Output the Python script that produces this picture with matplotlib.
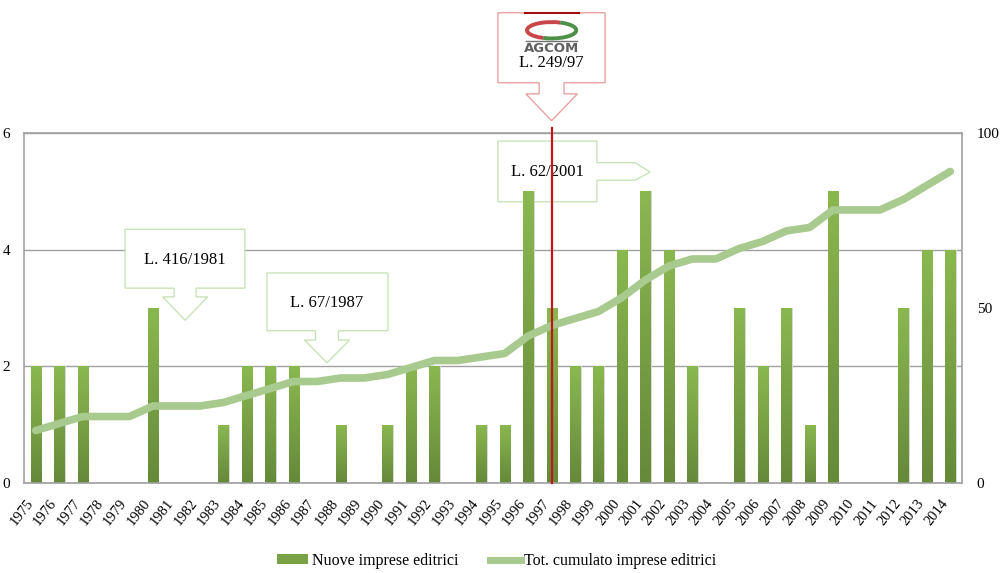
import numpy as np
import matplotlib.pyplot as plt
import matplotlib.transforms as mtransforms
from matplotlib.patches import Polygon, Arc, Patch
from matplotlib.lines import Line2D
from matplotlib.colors import LinearSegmentedColormap

plt.rcParams['font.family'] = ['Liberation Serif', 'DejaVu Serif']

# dati
anni = [str(a) for a in range(1975, 2015)]
nuove_imprese = [2, 2, 2, 0, 0, 3, 0, 0, 1, 2, 2, 2, 0, 1, 0, 1, 2, 2, 0, 1,
                 1, 5, 3, 2, 2, 4, 5, 4, 2, 0, 3, 2, 3, 1, 5, 0, 0, 3, 4, 4]
cumulato = [15, 17, 19, 19, 19, 22, 22, 22, 23, 25, 27, 29, 29, 30, 30, 31, 33, 35, 35, 36,
            37, 42, 45, 47, 49, 53, 58, 62, 64, 64, 67, 69, 72, 73, 78, 78, 78, 81, 85, 89]
ticks_sx = [0, 2, 4, 6]
ticks_dx = [0, 50, 100]

verde_bar = '#79A145'
verde_linea = '#A9CA8E'
bordo_callout = '#C9E3B8'
bordo_agcom = '#E9A2A2'
grigio = '#A0A0A0'

fig = plt.figure(figsize=(10, 5.73), dpi=100)
ax = fig.add_axes([0.024, 0.157, 0.938, 0.611])
x = np.arange(len(anni))

ax.yaxis.grid(True, color=grigio, lw=1, zorder=0.5)
ax.set_axisbelow(True)
for s in ax.spines.values():
    s.set_color(grigio)
    s.set_linewidth(1.2)
ax.tick_params(length=0, labelsize=11)
ax.tick_params(axis='y', pad=10)

# barre con sfumatura
cmap = LinearSegmentedColormap.from_list('g', ['#66893A', '#8AB850'])
grad = np.linspace(0, 1, 100).reshape(-1, 1)
bars = ax.bar(x, nuove_imprese, width=0.43, color=verde_bar, zorder=2)
for b, v in zip(bars, nuove_imprese):
    if v == 0:
        continue
    # ombra
    ax.bar(b.get_x() + b.get_width() / 2 + 0.06, v, width=0.43, color='#D8D8D8', zorder=1.5)
    im = ax.imshow(grad, extent=[b.get_x(), b.get_x() + b.get_width(), 0, v],
                   origin='lower', cmap=cmap, aspect='auto', zorder=2.1)
    im.set_clip_path(b)
ax.set_xlim(-0.5, len(anni) - 0.5)
ax.set_ylim(0, 6)
ax.set_yticks(ticks_sx)

ax.set_xticks(x)
ax.set_xticklabels(anni, rotation=52, ha='right', va='center', rotation_mode='anchor', fontsize=10.5)
ax.tick_params(axis='x', pad=13)
sposta = mtransforms.ScaledTranslation(-0.05, 0, fig.dpi_scale_trans)
for lab in ax.get_xticklabels():
    lab.set_transform(lab.get_transform() + sposta)

ax2 = ax.twinx()
ax2.set_ylim(0, 100)
ax2.set_yticks(ticks_dx)
ax2.tick_params(length=0, labelsize=11, pad=10.5)
for s in ax2.spines.values():
    s.set_visible(False)
ax2.plot(x, cumulato, color=verde_linea, lw=5.5, solid_capstyle='round', zorder=3)

# linea rossa AGCOM (1997)
i97 = anni.index('1997')
ax2.plot([i97, i97], [0, 101.5], color='#C0161C', lw=1.6, zorder=5, clip_on=False)


def callout_giu(cx, bx0, bx1, by0, by1, sw, hw, y_stem, y_tip, col, testo, ty):
    pts = [(bx0, by0), (bx1, by0), (bx1, by1), (cx + sw, by1), (cx + sw, y_stem),
           (cx + hw, y_stem), (cx, y_tip), (cx - hw, y_stem), (cx - sw, y_stem),
           (cx - sw, by1), (bx0, by1)]
    p = Polygon(pts, closed=True, facecolor='white', edgecolor=col, lw=1, clip_on=False, zorder=1)
    ax.add_patch(p)
    if testo:
        ax.text(cx, ty, testo, ha='center', va='center', fontsize=12, zorder=1.2, clip_on=False)


callout_giu(6.37, 3.81, 8.92, 4.35, 3.34, 0.47, 0.96, 3.19, 2.79, bordo_callout, 'L. 416/1981', 3.83)
callout_giu(12.42, 9.86, 15.02, 3.60, 2.61, 0.49, 0.96, 2.45, 2.06, bordo_callout, 'L. 67/1987', 3.08)
callout_giu(i97, 19.71, 24.28, 8.06, 6.86, 0.53, 1.1, 6.67, 6.21, bordo_agcom, 'L. 249/97', 7.2)

# callout destro L. 62/2001
pts = [(19.71, 5.86), (23.93, 5.86), (23.93, 5.49), (25.56, 5.49), (26.2, 5.33),
       (25.56, 5.19), (23.93, 5.19), (23.93, 4.82), (19.71, 4.82)]
ax.add_patch(Polygon(pts, closed=True, facecolor='white', edgecolor=bordo_callout, lw=1,
                     clip_on=False, zorder=1))
ax.text(21.82, 5.33, 'L. 62/2001', ha='center', va='center', fontsize=12, zorder=1.2)

# logo AGCOM
ax.add_patch(Arc((i97, 7.76), 2.1, 0.28, theta1=20, theta2=200, color='#C8464A', lw=2.8,
                 clip_on=False, zorder=7))
ax.add_patch(Arc((i97, 7.76), 2.1, 0.28, theta1=200, theta2=380, color='#4E8F4A', lw=2.8,
                 clip_on=False, zorder=7))
ax.plot([i97 - 1.08, i97 + 1.08], [7.58, 7.58], color='#707070', lw=1, clip_on=False, zorder=7)
ax.text(i97, 7.44, 'AGCOM', ha='center', va='center', fontsize=9.5, color='#606060',
        family='DejaVu Sans', fontweight='bold', zorder=7, clip_on=False)
ax.plot([i97 - 1.15, i97 + 1.15], [8.05, 8.05], color='#A01010', lw=1.5, clip_on=False, zorder=7)

# legenda
handles = [Patch(facecolor=verde_bar, edgecolor='none', label='Nuove imprese editrici'),
           Line2D([0], [0], color=verde_linea, lw=5, label='Tot. cumulato imprese editrici')]
fig.legend(handles=handles, loc='center', bbox_to_anchor=(0.497, 0.021), ncol=2,
           frameon=False, fontsize=11.5, handlelength=1.95, handleheight=0.6,
           handletextpad=0.2, columnspacing=2.0)

fig.savefig('out.png', dpi=100)
